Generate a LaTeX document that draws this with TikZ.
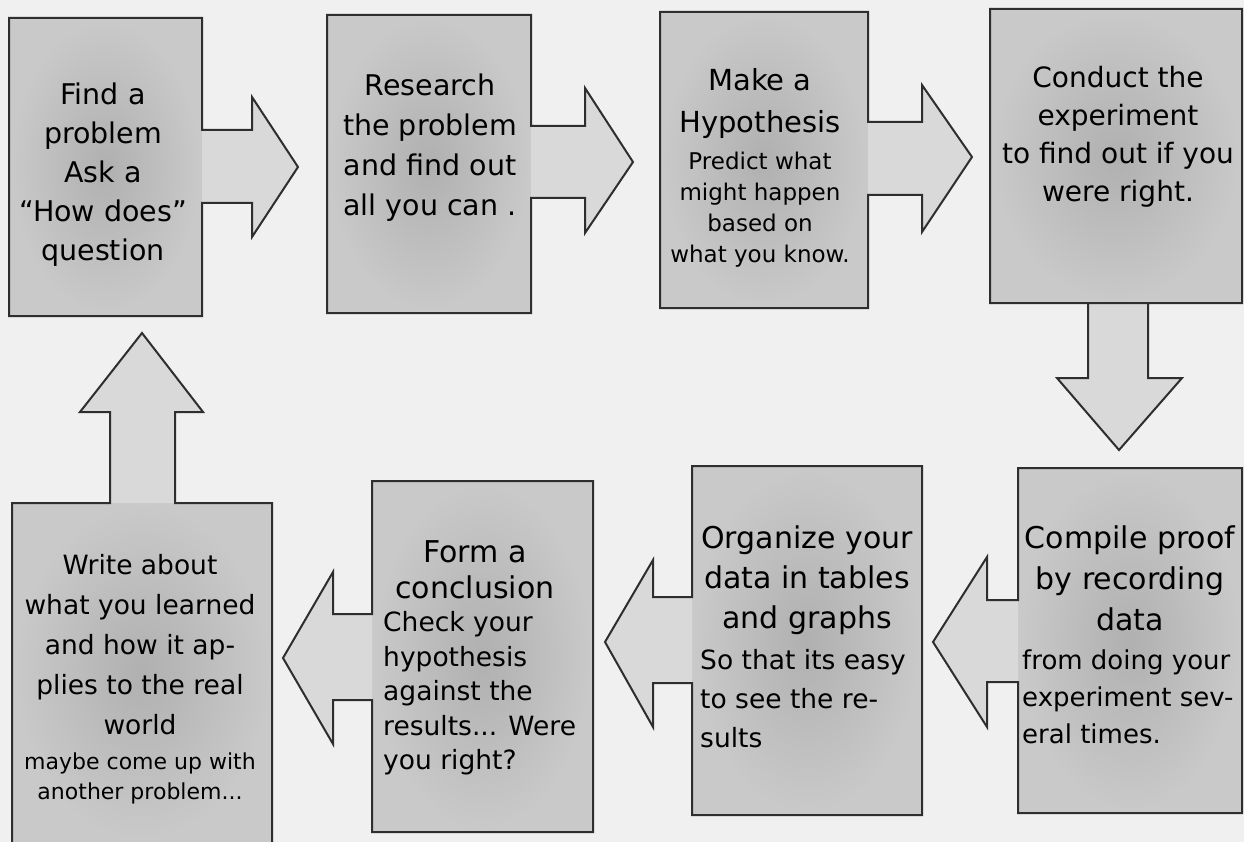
\documentclass[tikz,border=0pt]{standalone}
\usepackage{fontspec}
\setmainfont{DejaVu Sans}
\definecolor{bg}{gray}{0.94}
\definecolor{boxin}{gray}{0.69}
\definecolor{boxout}{gray}{0.79}
\definecolor{arrfill}{gray}{0.85}
\definecolor{edge}{gray}{0.18}
\tikzset{
  stepbox/.style={rectangle, inner sep=0pt, outer sep=0pt, shading=radial, inner color=boxin, outer color=boxout},
  outline/.style={draw=edge, line width=2pt, line join=miter},
  afill/.style={fill=arrfill},
  txt/.style={inner sep=0pt, align=center, text=black},
  lft/.style={inner sep=0pt, align=left, anchor=west, text=black},
  arA/.style={insert path={-- ++(50,0) -- ++(0,-33) -- ++(46,70) -- ++(-46,70) -- ++(0,-34) -- ++(-50,0)}},
  arB/.style={insert path={-- ++(54,0) -- ++(0,-38) -- ++(48,74) -- ++(-48,71) -- ++(0,-35) -- ++(-54,0)}},
  arC/.style={insert path={-- ++(54,0) -- ++(0,-37) -- ++(50,72) -- ++(-50,75) -- ++(0,-37) -- ++(-54,0)}},
  arD/.style={insert path={-- ++(0,75) -- ++(-31,0) -- ++(62,72) -- ++(63,-72) -- ++(-34,0) -- ++(0,-75)}},
  arE/.style={insert path={-- ++(-31,0) -- ++(0,-43) -- ++(-54,85) -- ++(54,85) -- ++(0,-45) -- ++(31,0)}},
  arF/.style={insert path={-- ++(-39,0) -- ++(0,-37) -- ++(-48,82) -- ++(48,85) -- ++(0,-44) -- ++(39,0)}},
  arG/.style={insert path={-- ++(-39,0) -- ++(0,-42) -- ++(-50,86) -- ++(50,86) -- ++(0,-44) -- ++(39,0)}},
  arH/.style={insert path={-- ++(0,-91) -- ++(-30,0) -- ++(62,-79) -- ++(61,79) -- ++(-28,0) -- ++(0,91)}}
}
\begin{document}
\begin{tikzpicture}[x=1pt,y=-1pt]
\useasboundingbox (0,0) rectangle (1244,842);
\fill[bg] (0,0) rectangle (1244,842);

% boxes
\node[stepbox, minimum width=193pt, minimum height=298pt] (b1) at (105.5,167) {};
\node[stepbox, minimum width=204pt, minimum height=298pt] (b2) at (429,164) {};
\node[stepbox, minimum width=208pt, minimum height=296pt] (b3) at (764,160) {};
\node[stepbox, minimum width=252pt, minimum height=294pt] (b4) at (1116,156) {};
\node[stepbox, minimum width=224pt, minimum height=345pt] (b5) at (1130,640.5) {};
\node[stepbox, minimum width=230pt, minimum height=349pt] (b6) at (807,640.5) {};
\node[stepbox, minimum width=221pt, minimum height=351pt] (b7) at (482.5,656.5) {};
\node[stepbox, minimum width=260pt, minimum height=339pt] (b8) at (142,672.5) {};

% arrow fills
\fill[afill] ([yshift=37pt]b1.east) [arA] -- cycle;
\fill[afill] ([yshift=38pt]b2.east) [arB] -- cycle;
\fill[afill] ([yshift=38pt]b3.east) [arC] -- cycle;
\fill[afill] ([xshift=-28pt]b4.south) [arD] -- cycle;
\fill[afill] ([yshift=40.5pt]b5.west) [arE] -- cycle;
\fill[afill] ([yshift=43.5pt]b6.west) [arF] -- cycle;
\fill[afill] ([yshift=42.5pt]b7.west) [arG] -- cycle;
\fill[afill] ([xshift=-32pt]b8.north) [arH] -- cycle;

% outlines
\draw[outline] (b1.north west) -- (b1.north east) -- ([yshift=37pt]b1.east) [arA] -- (b1.south east) -- (b1.south west) -- cycle;
\draw[outline] (b2.north west) -- (b2.north east) -- ([yshift=38pt]b2.east) [arB] -- (b2.south east) -- (b2.south west) -- cycle;
\draw[outline] (b3.north west) -- (b3.north east) -- ([yshift=38pt]b3.east) [arC] -- (b3.south east) -- (b3.south west) -- cycle;
\draw[outline] (b4.north west) -- (b4.north east) -- (b4.south east) -- ([xshift=-28pt]b4.south) [arD] -- (b4.south west) -- cycle;
\draw[outline] (b5.south east) -- (b5.north east) -- (b5.north west) -- ([yshift=40.5pt]b5.west) [arE] -- (b5.south west) -- cycle;
\draw[outline] (b6.south east) -- (b6.north east) -- (b6.north west) -- ([yshift=43.5pt]b6.west) [arF] -- (b6.south west) -- cycle;
\draw[outline] (b7.south east) -- (b7.north east) -- (b7.north west) -- ([yshift=42.5pt]b7.west) [arG] -- (b7.south west) -- cycle;
\draw[outline] (b8.south west) -- (b8.north west) -- ([xshift=-32pt]b8.north) [arH] -- (b8.north east) -- (b8.south east);

% texts
\node[txt, font=\fontsize{28.5}{39}\selectfont] (t1) at (103,175) {Find a\\problem\\Ask a\\“How does”\\question};
\node[txt, font=\fontsize{28.5}{40}\selectfont] (t2) at (430,148) {Research\\the problem\\and find out\\all you can .};
\node[txt, font=\fontsize{29}{42}\selectfont] (t3a) at (760,104) {Make a\\Hypothesis};
\node[txt, font=\fontsize{23}{31}\selectfont] (t3b) at (760,210) {Predict what\\might happen\\based on\\what you know.};
\node[txt, font=\fontsize{28}{38}\selectfont] (t4) at (1118,136.5) {Conduct the\\experiment\\to find out if you\\were right.};
\node[txt, font=\fontsize{30}{41}\selectfont] (t5a) at (1130,578.5) {Compile proof\\by recording\\data};
\node[lft, font=\fontsize{26}{37}\selectfont] (t5b) at (1022,696.5) {from doing your\\experiment sev-\\eral times.};
\node[txt, font=\fontsize{30}{40}\selectfont] (t6a) at (807,580) {Organize your\\data in tables\\and graphs};
\node[lft, font=\fontsize{26.5}{39}\selectfont] (t6b) at (700,699) {So that its easy\\to see the re-\\sults};
\node[txt, font=\fontsize{30}{36}\selectfont] (t7a) at (475,570) {Form a\\conclusion};
\node[lft, font=\fontsize{26.5}{34.5}\selectfont] (t7b) at (383,693.5) {Check your\\hypothesis\\against the\\results... Were\\you right?};
\node[txt, font=\fontsize{26.5}{40}\selectfont] (t8a) at (140,645) {Write about\\what you learned\\and how it ap-\\plies to the real\\world};
\node[txt, font=\fontsize{22}{30}\selectfont] (t8b) at (140,778) {maybe come up with\\another problem...};
\end{tikzpicture}
\end{document}
